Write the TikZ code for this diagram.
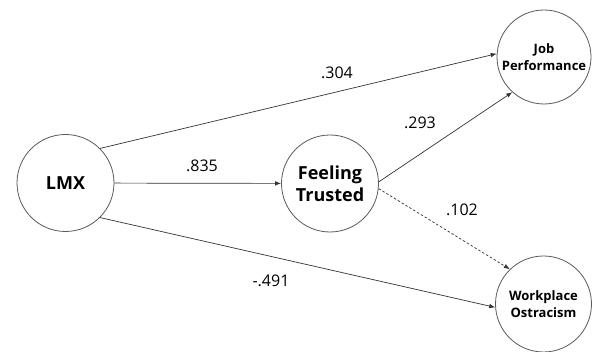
\documentclass[tikz,border=0pt]{standalone}
\usepackage{fontspec}
\setmainfont{Open Sans}
\usetikzlibrary{arrows.meta}
\begin{document}
\begin{tikzpicture}[x=1pt,y=-1pt,
  var/.style={circle,draw=black!65,line width=0.8pt,minimum size=97pt,inner sep=0pt,align=center},
  path/.style={draw=black!80,line width=0.7pt,-{Latex[length=6pt,width=4.5pt]}},
  coef/.style={font=\fontsize{16}{18}\selectfont,inner sep=0pt}]
\useasboundingbox (0,0) rectangle (595,352);
\node[var,font=\bfseries\fontsize{18}{20}\selectfont] (lmx) at (65.5,183) {LMX};
\node[var,font=\bfseries\fontsize{18}{22}\selectfont] (ft) at (330,183.5) {Feeling\\Trusted};
\node[var,minimum size=94pt,font=\bfseries\fontsize{13}{17}\selectfont] (jp) at (544,57) {Job\\Performance};
\node[var,minimum size=96pt,font=\bfseries\fontsize{13}{17}\selectfont] (wo) at (543.5,304) {Workplace\\Ostracism};
\draw[path] (lmx.45) -- (jp.176);
\draw[path] (lmx) -- (ft);
\draw[path] (lmx.-45) -- (wo.184);
\draw[path] (ft.2) -- (jp.228);
\draw[path,dashed,dash pattern=on 2.5pt off 2pt] (ft.-6) -- (wo.134);
\node[coef] (c1) at (337,73) {.304};
\node[coef] (c2) at (202,166) {.835};
\node[coef] (c3) at (420,123) {.293};
\node[coef] (c4) at (462,210) {.102};
\node[coef] (c5) at (271,281) {-.491};
\end{tikzpicture}
\end{document}
